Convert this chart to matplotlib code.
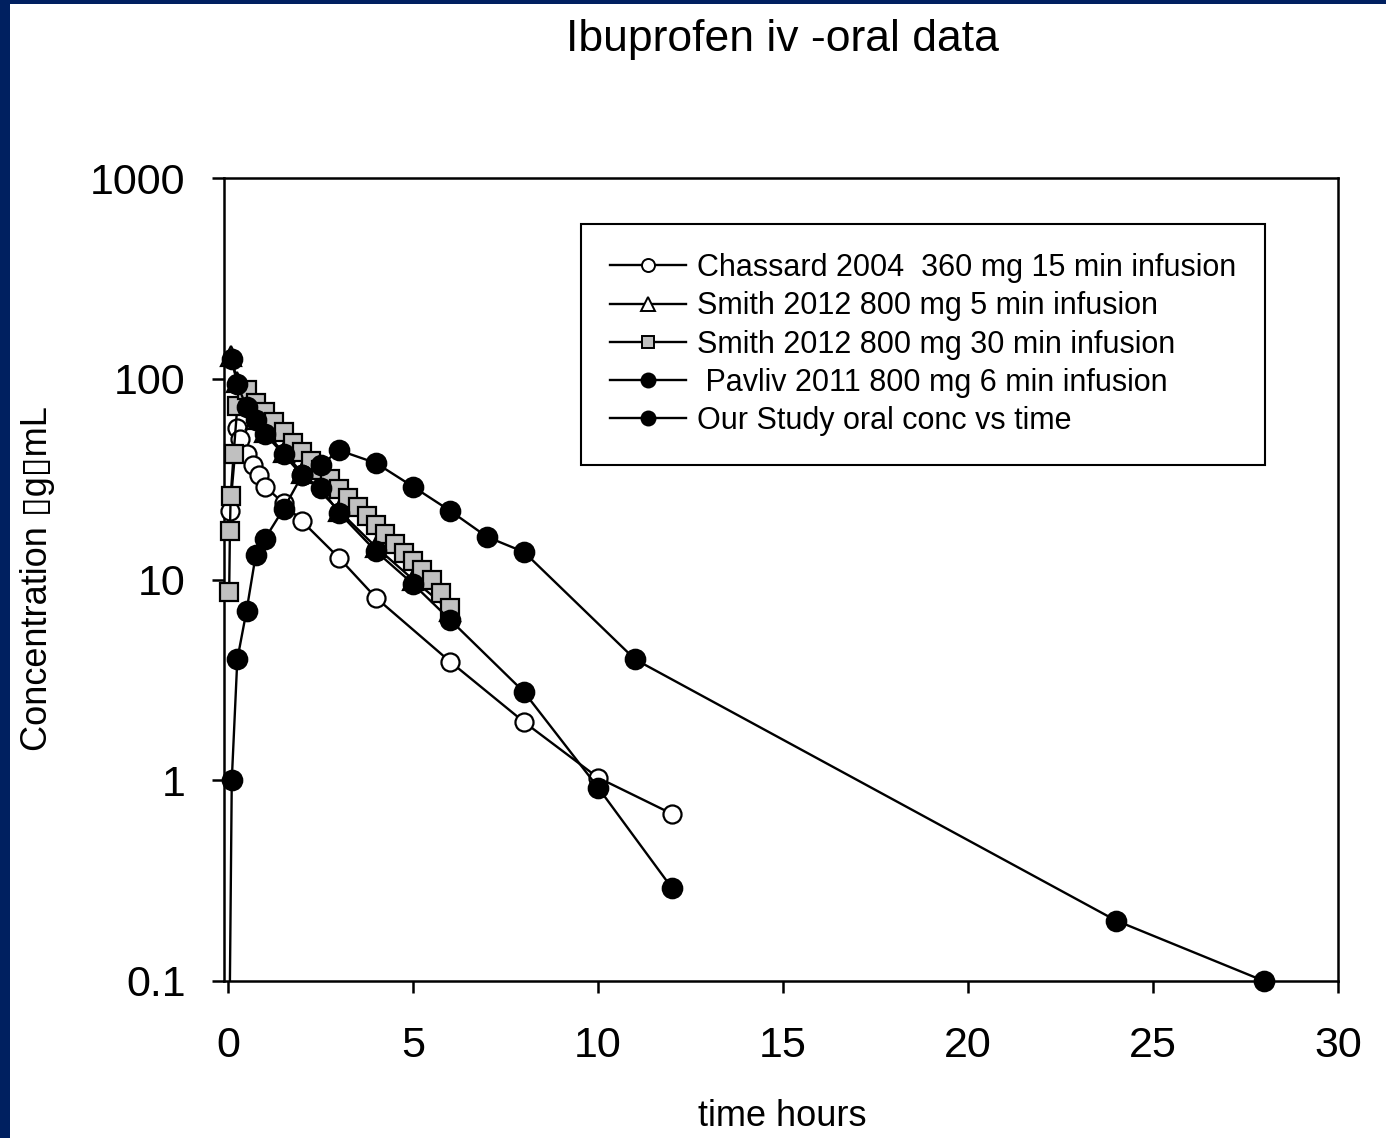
import numpy as np
import matplotlib
matplotlib.use("Agg")
import matplotlib.pyplot as plt
from matplotlib.lines import Line2D
from matplotlib.patches import Rectangle
from matplotlib.ticker import FixedLocator, FixedFormatter, NullLocator

plt.rcParams["font.family"] = ["Liberation Sans", "DejaVu Sans"]

# ============================================================
# DATA  (time in hours, concentration in ug/mL)
# ============================================================

chassard_t = [0.05, 0.25, 0.33, 0.5, 0.67, 0.83, 1.0, 1.5, 2.0, 3.0, 4.0, 6.0, 8.0, 10.0, 12.0]
chassard_c = [22, 57, 50, 42, 37, 33, 29, 24, 19.5, 12.8, 8.1, 3.9, 1.95, 1.03, 0.68]

smith5_t = [0.08, 0.25, 0.5, 0.75, 1.0, 1.5, 2.0, 3.0, 4.0, 5.0, 6.0]
smith5_c = [130, 96, 76, 63, 54, 43, 34, 22, 14.5, 10, 7.0]

smith30_t = [0.03, 0.05, 0.07, 0.15, 0.25, 0.5, 0.75, 1.0, 1.25, 1.5, 1.75, 2.0,
             2.25, 2.5, 2.75, 3.0, 3.25, 3.5, 3.75, 4.0, 4.25, 4.5, 4.75, 5.0,
             5.25, 5.5, 5.75, 6.0]
smith30_c = [8.7, 17.4, 26, 42, 73, 88, 76, 68, 61, 54, 48, 43,
             39, 35, 31.6, 28.2, 25.4, 22.9, 20.7, 18.6, 16.8, 15.1, 13.6, 12.3,
             11.1, 9.9, 8.6, 7.2]

pavliv_t = [0.1, 0.25, 0.5, 0.75, 1.0, 1.5, 2.0, 2.5, 3.0, 4.0, 5.0, 6.0, 8.0, 10.0, 12.0]
pavliv_c = [125, 94, 72, 62, 53, 42, 33, 28.5, 21.5, 13.8, 9.5, 6.3, 2.75, 0.92, 0.29]

oral_t = [0.0, 0.1, 0.25, 0.5, 0.75, 1.0, 1.5, 2.0, 2.5, 3.0, 4.0, 5.0, 6.0,
          7.0, 8.0, 11.0, 24.0, 28.0]
oral_c = [0.01, 1.0, 4.0, 7.0, 13.3, 16.0, 22.5, 33, 37, 44, 38, 29, 22,
          16.3, 13.7, 4.0, 0.2, 0.1]

series_labels = [
    "Chassard 2004  360 mg 15 min infusion",
    "Smith 2012 800 mg 5 min infusion",
    "Smith 2012 800 mg 30 min infusion",
    " Pavliv 2011 800 mg 6 min infusion",
    "Our Study oral conc vs time",
]

x_ticks = [0, 5, 10, 15, 20, 25, 30]
y_ticks = [0.1, 1, 10, 100, 1000]
y_tick_labels = ["0.1", "1", "10", "100", "1000"]

# ============================================================
# STYLE
# ============================================================

styles = [
    dict(marker="o", mfc="white", ms=13),
    dict(marker="^", mfc="white", ms=14),
    dict(marker="s", mfc="#c0c0c0", ms=12.5),
    dict(marker="o", mfc="black", ms=14),
    dict(marker="o", mfc="black", ms=14),
]

series = [
    (chassard_t, chassard_c),
    (smith5_t, smith5_c),
    (smith30_t, smith30_c),
    (pavliv_t, pavliv_c),
    (oral_t, oral_c),
]

W, H = 1386, 1138
fig = plt.figure(figsize=(W / 100, H / 100), dpi=100)
fig.patch.set_facecolor("white")

# navy slide border (left and top)
fig.patches.append(Rectangle((0, 0), 10 / W, 1, transform=fig.transFigure,
                             facecolor="#002060", edgecolor="none", zorder=0))
fig.patches.append(Rectangle((0, 1 - 4 / H), 1, 4 / H, transform=fig.transFigure,
                             facecolor="#002060", edgecolor="none", zorder=0))

left, right, top, bottom = 224, 1338, 178, 981
ax = fig.add_axes([left / W, 1 - bottom / H, (right - left) / W, (bottom - top) / H])

handles = []
for i, ((t, c), st) in enumerate(zip(series, styles)):
    z = 3 + i
    ax.plot(t, c, "-", color="black", lw=1.7, zorder=z)
    ax.plot(t, c, ls="none", marker=st["marker"], ms=st["ms"], mfc=st["mfc"],
            mec="black", mew=1.6, clip_on=False, zorder=z + 0.5)
    handles.append(Line2D([], [], color="black", lw=1.7, marker=st["marker"],
                          ms=st["ms"] * 0.72, mfc=st["mfc"], mec="black", mew=1.4))

ax.set_yscale("log")
ax.set_xlim(-0.11, 30)
ax.set_ylim(0.1, 1000)

ax.xaxis.set_major_locator(FixedLocator(x_ticks))
ax.yaxis.set_major_locator(FixedLocator(y_ticks))
ax.yaxis.set_major_formatter(FixedFormatter(y_tick_labels))
ax.yaxis.set_minor_locator(NullLocator())
ax.xaxis.set_minor_locator(NullLocator())

for sp in ax.spines.values():
    sp.set_linewidth(1.8)

ax.tick_params(axis="both", direction="out", length=8.6, width=1.8,
               labelsize=31, top=False, right=False)
ax.tick_params(axis="x", pad=24)
ax.tick_params(axis="y", pad=19)

leg = ax.legend(handles, series_labels, loc="upper left",
                bbox_to_anchor=(581 / W, 1 - 224 / H),
                bbox_transform=fig.transFigure, borderaxespad=0,
                fontsize=22, frameon=True, fancybox=False, shadow=False,
                framealpha=1, handlelength=2.5, handletextpad=0.35,
                labelspacing=0.27, borderpad=0.95)
leg.get_frame().set_edgecolor("black")
leg.get_frame().set_linewidth(1.5)

fig.text(782 / W, 1 - 40 / H, "Ibuprofen iv -oral data", fontsize=32,
         ha="center", va="center")
fig.text(782 / W, 1 - 1117 / H, "time hours", fontsize=26,
         ha="center", va="center")
fig.text(38 / W, 1 - 579 / H, "Concentration \u25afg\u25afmL",
         fontsize=26, rotation=90, ha="center", va="center")

fig.savefig("out.png", dpi=100)
